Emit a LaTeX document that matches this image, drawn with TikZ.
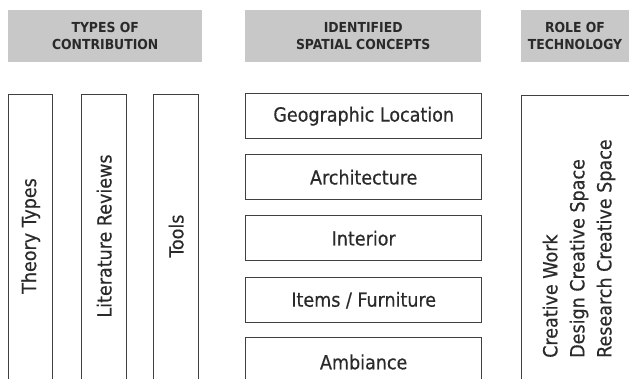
\documentclass[tikz,border=0pt]{standalone}
\usepackage{fontspec}
\setmainfont{DejaVu Sans Condensed}
\newfontfamily\lblfont[FakeBold=0.4]{DejaVu Sans Condensed}
\definecolor{hdrgray}{HTML}{C8C8C8}
\definecolor{linegray}{HTML}{404040}
\definecolor{txtgray}{HTML}{2A2A2A}
\begin{document}
\begin{tikzpicture}[x=1pt,y=-1pt,
  header/.style={fill=hdrgray, draw=none, anchor=north west, inner sep=0pt,
    align=center, text=txtgray, font=\fontsize{13.8}{17}\selectfont\bfseries},
  box/.style={draw=linegray, line width=1.4pt, fill=white, anchor=north west, inner sep=0pt},
  label/.style={text=txtgray, font=\lblfont\fontsize{19.5}{27}\selectfont, inner sep=0pt},
  vlabel/.style={label, rotate=90}
]
\useasboundingbox (0,0) rectangle (629,378);
\clip (0,0) rectangle (629,378);
% headers
\node[header, minimum width=194, minimum height=52] (h1) at (8,10) {TYPES OF\\CONTRIBUTION};
\node[header, minimum width=236, minimum height=52] (h2) at (245,10) {IDENTIFIED\\SPATIAL CONCEPTS};
\node[header, minimum width=120, minimum height=52] (h3) at (521,10) {};
\node[text=txtgray, font=\fontsize{13.8}{17}\selectfont\bfseries, align=center, inner sep=0pt] (h3t) at (575,36) {ROLE OF\\TECHNOLOGY};
% contribution columns
\node[box, minimum width=44, minimum height=320] (c1) at (8,94) {};
\node[box, minimum width=45, minimum height=320] (c2) at (81,94) {};
\node[box, minimum width=45, minimum height=320] (c3) at (153,94) {};
\node[vlabel] (t1) at (c1.center |- 0,236) {Theory Types};
\node[vlabel] (t2) at (c2.center |- 0,236) {Literature Reviews};
\node[vlabel] (t3) at (c3.center |- 0,236) {Tools};
% spatial concepts
\node[box, minimum width=236, minimum height=45] (s1) at (245,93) {};
\node[box, minimum width=236, minimum height=45] (s2) at (245,154) {};
\node[box, minimum width=236, minimum height=45] (s3) at (245,215) {};
\node[box, minimum width=236, minimum height=45] (s4) at (245,277) {};
\node[box, minimum width=236, minimum height=45] (s5) at (245,337) {};
\node[label] (l1) at (s1.center) {Geographic Location};
\node[label] (l2) at (s2.center) {Architecture};
\node[label] (l3) at (s3.center) {Interior};
\node[label] (l4) at (s4.center) {Items / Furniture};
\node[label] (l5) at ([yshift=-1]s5.north |- 0,361) {Ambiance};
% role of technology
\node[box, minimum width=130, minimum height=320] (r1) at (521,95) {};
\node[label, rotate=90, align=left, anchor=west] (rt) at (579,358) {Creative Work\\Design Creative Space\\Research Creative Space};
\end{tikzpicture}
\end{document}
